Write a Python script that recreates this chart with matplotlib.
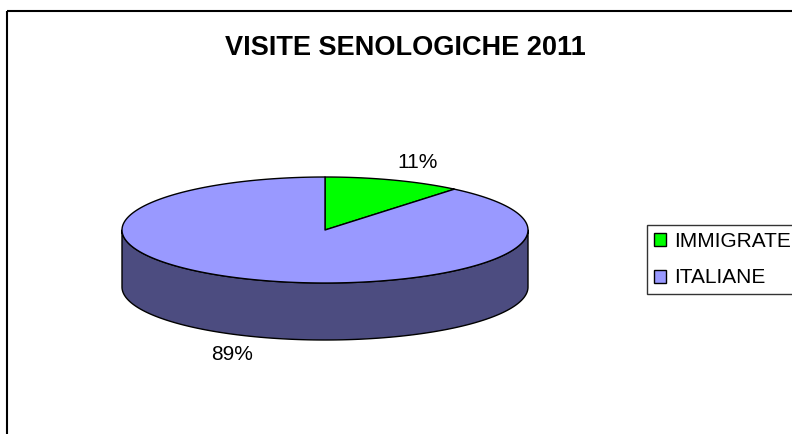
import numpy as np
import matplotlib
matplotlib.use("Agg")
import matplotlib.pyplot as plt
from matplotlib.patches import Polygon, Rectangle, Patch

plt.rcParams['font.family'] = ['Liberation Sans', 'DejaVu Sans']

# ---- data ----
title = "VISITE SENOLOGICHE 2011"
categories = ["IMMIGRATE", "ITALIANE"]
values = [11, 89]
pct_labels = ["11%", "89%"]
top_colors = ["#00FF00", "#9999FF"]
side_colors = ["#008000", "#4C4C80"]

W, H = 792, 434
fig = plt.figure(figsize=(W / 100, H / 100), dpi=100)
ax = fig.add_axes([0, 0, 1, 1])
ax.set_xlim(0, W)
ax.set_ylim(H, 0)
ax.axis("off")

# chart frame
ax.add_patch(Rectangle((7, 11), 900, 500, fill=False, ec="black", lw=1.5, zorder=1))

# pie geometry (pixel space)
cx, cy, rx, ry, depth = 325, 230, 203, 53, 57


def pt(t, dy=0.0):
    t = np.asarray(t)
    return np.column_stack([cx + rx * np.sin(t), cy - ry * np.cos(t) + dy])


total = float(sum(values))
bounds = np.concatenate([[0], np.cumsum(values) / total * 2 * np.pi])

# side walls (front half: t from pi/2 to 3pi/2)
for i in range(len(values)):
    a0, a1 = bounds[i], bounds[i + 1]
    s0, s1 = max(a0, np.pi / 2), min(a1, 3 * np.pi / 2)
    if s1 > s0:
        ts = np.linspace(s0, s1, 200)
        poly = np.vstack([pt(ts), pt(ts[::-1], depth)])
        ax.add_patch(Polygon(poly, closed=True, fc=side_colors[i], ec="black",
                             lw=1.0, zorder=2, joinstyle="round"))

# top faces
for i in range(len(values)):
    a0, a1 = bounds[i], bounds[i + 1]
    ts = np.linspace(a0, a1, 300)
    poly = np.vstack([[cx, cy], pt(ts)])
    ax.add_patch(Polygon(poly, closed=True, fc=top_colors[i], ec="black",
                         lw=1.0, zorder=3, joinstyle="round"))

# percentage labels
for i in range(len(values)):
    mid = (bounds[i] + bounds[i + 1]) / 2
    f = 1.35
    x = cx + f * rx * np.sin(mid)
    y = cy - f * ry * np.cos(mid)
    if np.cos(mid) < 0:
        y += depth
    ax.text(x, y, pct_labels[i], ha="center", va="center", fontsize=15, color="black", zorder=4)

# title
ax.text(405, 48, title, ha="center", va="center", fontsize=19.5, fontweight="bold", zorder=4)

# legend
handles = [Patch(fc=c, ec="black", lw=1.0) for c in top_colors]
leg = ax.legend(handles, categories, loc="upper left", bbox_to_anchor=(647 / W, 1 - 225 / H),
                bbox_transform=fig.transFigure, frameon=True, fancybox=False,
                fontsize=15, handlelength=0.58, handleheight=0.58, handletextpad=0.38,
                labelspacing=0.85, borderpad=0.32, borderaxespad=0)
leg.get_frame().set_edgecolor("black")
leg.get_frame().set_linewidth(1.0)

fig.savefig("out.png", dpi=100)
